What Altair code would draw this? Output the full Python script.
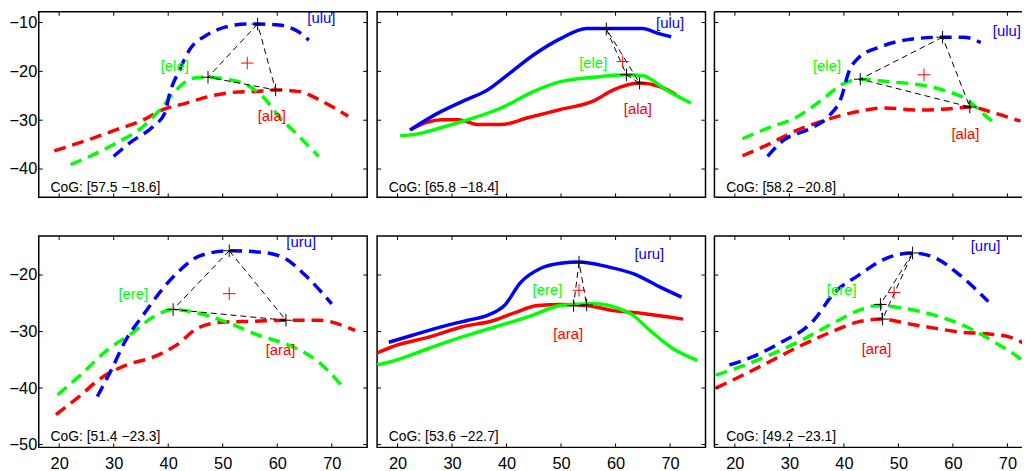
import altair as alt
import pandas as pd

FONT = "Liberation Sans"
X_DOMAIN = [16.25, 76.5]
Y_DOMAIN_TOP = [-45.8, -7.8]
Y_DOMAIN_BOTTOM = [-50.5, -13.1]
X_TICKS = [20, 30, 40, 50, 60, 70]
Y_TICKS_TOP = [-40, -30, -20, -10]
Y_TICKS_BOTTOM = [-50, -40, -30, -20]
PANEL_W = 331
PANEL_W_LAST = 310   # the right column is cut by the window edge in the reference
H_TOP = 187
H_BOTTOM = 213

# ---------------- panel 1 (top-left, dashed) ----------------
P1_U = [(30.0, -37.4), (33.0, -34.6), (37.3, -31.2), (39.4, -28.5), (40.3, -24.4), (42.1, -19.7),
        (43.9, -15.6), (47.0, -12.6), (50.6, -10.9), (54.3, -10.3), (56.4, -10.3), (60.3, -10.5),
        (63.9, -11.9), (65.8, -13.6)]
P1_E = [(22.1, -39.1), (26.4, -37.0), (30.6, -34.6), (35.5, -31.2), (38.5, -27.8), (41.5, -23.8),
        (44.5, -21.4), (47.3, -21.2), (50.6, -21.6), (54.3, -22.7), (57.3, -25.1), (60.3, -29.2),
        (63.9, -33.2), (67.6, -37.4)]
P1_A = [(19.1, -36.3), (26.4, -33.6), (30.6, -31.9), (34.9, -30.2), (39.1, -27.8), (43.3, -26.5),
        (47.6, -25.1), (51.9, -24.3), (56.1, -24.1), (59.7, -23.8), (63.9, -24.1), (68.2, -26.1),
        (73.0, -29.2)]
P1_PEAKS = [(56.4, -10.3), (47.3, -21.2), (59.7, -23.8)]
P1_COG = (54.5, -18.3)
P1_LABELS = [(68.1, -9.0), (41.2, -19.0), (59.0, -29.2)]
P1_NAMES = ["[ulu]", "[ele]", "[ala]"]
P1_TEXT = "CoG: [57.5 \u221218.6]"

# ---------------- panel 2 (top-middle, solid) ----------------
P2_U = [(22.3, -32.0), (27.5, -28.5), (32.4, -25.9), (36.5, -23.8), (40.2, -20.7), (45.0, -16.6),
        (49.9, -13.3), (54.7, -11.2), (58.4, -11.2), (65.0, -11.2), (67.5, -12.1), (70.2, -12.9)]
P2_E = [(20.5, -33.2), (23.2, -32.9), (28.1, -31.5), (32.9, -29.9), (39.0, -27.5), (45.0, -24.1),
        (49.9, -22.1), (55.9, -21.2), (62.0, -20.7), (65.0, -20.9), (69.3, -23.8), (73.8, -26.5)]
P2_A = [(22.3, -32.0), (25.5, -30.4), (28.1, -29.9), (31.2, -29.9), (34.8, -30.9), (39.0, -30.9),
        (43.9, -29.5), (49.9, -27.8), (55.9, -26.1), (59.6, -23.8), (64.4, -22.4), (68.1, -23.1),
        (71.1, -24.8)]
P2_PEAKS = [(58.3, -11.3), (62.0, -20.7), (64.4, -22.4)]
P2_COG = (61.3, -18.0)
P2_LABELS = [(70.0, -10.1), (55.9, -18.3), (64.1, -27.8)]
P2_NAMES = ["[ulu]", "[ele]", "[ala]"]
P2_TEXT = "CoG: [65.8 \u221218.4]"

# ---------------- panel 3 (top-right, dashed) ----------------
P3_U = [(26.0, -37.4), (28.7, -34.3), (34.2, -31.5), (37.2, -29.2), (39.6, -25.1), (40.8, -20.4),
        (42.6, -17.3), (46.9, -14.9), (51.7, -13.5), (58.1, -13.0), (62.0, -13.0), (65.1, -14.1)]
P3_E = [(21.4, -33.8), (26.25, -31.5), (31.1, -29.5), (36.0, -25.8), (39.6, -22.7), (43.0, -21.6),
        (48.1, -22.1), (53.5, -22.7), (58.4, -23.9), (62.6, -25.8), (65.7, -28.8), (67.5, -30.5)]
P3_A = [(21.4, -37.3), (26.25, -34.9), (31.1, -32.2), (36.0, -30.2), (41.4, -28.5), (47.5, -27.5),
        (53.5, -27.9), (59.0, -27.7), (63.2, -27.3), (67.5, -28.5), (72.4, -30.2)]
P3_PEAKS = [(58.1, -13.0), (43.0, -21.6), (63.1, -27.3)]
P3_COG = (54.7, -20.7)
P3_LABELS = [(69.9, -11.7), (36.9, -18.9), (62.3, -32.8)]
P3_NAMES = ["[ulu]", "[ele]", "[ala]"]
P3_TEXT = "CoG: [58.2 \u221220.8]"

# ---------------- panel 4 (bottom-left, dashed) ----------------
P4_U = [(27.0, -41.5), (29.4, -37.1), (32.4, -31.2), (35.4, -27.1), (39.0, -22.4), (42.1, -19.2),
        (45.8, -16.6), (51.2, -15.7), (57.3, -16.0), (61.5, -17.1), (65.2, -20.1), (70.0, -25.1)]
P4_E = [(19.7, -41.2), (23.9, -37.7), (28.8, -33.3), (33.6, -30.1), (37.3, -27.4), (40.9, -26.1),
        (45.8, -26.8), (50.6, -28.3), (56.7, -30.7), (62.1, -32.4), (67.6, -35.4), (71.8, -39.5)]
P4_A = [(19.4, -44.7), (23.3, -41.8), (27.6, -38.3), (32.4, -35.9), (37.3, -34.5), (41.5, -32.4),
        (45.8, -29.2), (50.6, -28.3), (55.5, -28.2), (61.5, -28.0), (67.6, -28.0), (74.3, -29.8)]
P4_PEAKS = [(51.2, -15.7), (40.9, -26.1), (61.6, -28.0)]
P4_COG = (51.2, -23.3)
P4_LABELS = [(64.4, -14.2), (33.6, -23.3), (60.6, -33.3)]
P4_NAMES = ["[uru]", "[ere]", "[ara]"]
P4_TEXT = "CoG: [51.4 \u221223.3]"

# ---------------- panel 5 (bottom-middle, solid) ----------------
P5_U = [(18.4, -31.9), (22.6, -30.7), (28.7, -29.0), (32.9, -28.0), (36.6, -27.1), (39.6, -25.4),
        (42.6, -21.3), (46.3, -18.8), (49.9, -17.9), (53.3, -17.7), (58.4, -18.5), (63.9, -20.0),
        (68.1, -22.1), (72.1, -23.9)]
P5_E = [(16.25, -35.9), (19.6, -35.1), (25.7, -33.0), (31.7, -31.0), (37.8, -29.2), (43.9, -27.4),
        (49.9, -25.4), (52.3, -25.2), (55.9, -25.1), (60.8, -26.0), (63.2, -27.1), (65.6, -29.2),
        (70.5, -33.0), (75.0, -35.1)]
P5_A = [(16.25, -33.8), (19.6, -32.5), (25.7, -31.0), (31.7, -29.2), (37.8, -28.0), (41.4, -26.7),
        (45.7, -25.4), (49.9, -25.2), (54.7, -25.4), (59.6, -26.3), (65.0, -26.8), (72.4, -27.8)]
P5_PEAKS = [(53.3, -17.7), (52.3, -25.4), (54.7, -25.3)]
P5_COG = (53.3, -22.7)
P5_LABELS = [(66.2, -16.3), (47.5, -22.6), (51.3, -30.5)]
P5_NAMES = ["[uru]", "[ere]", "[ara]"]
P5_TEXT = "CoG: [53.6 \u221222.7]"

# ---------------- panel 6 (bottom-right, dashed) ----------------
P6_U = [(19.0, -35.9), (23.2, -34.5), (28.1, -32.1), (34.2, -28.3), (38.4, -23.0), (42.6, -20.1),
        (48.1, -16.9), (52.6, -16.1), (56.6, -16.9), (61.4, -20.1), (66.5, -24.7)]
P6_E = [(16.5, -37.7), (20.2, -36.5), (26.25, -34.2), (32.3, -31.5), (38.4, -28.3), (42.6, -26.3),
        (46.3, -25.4), (50.4, -25.8), (56.6, -27.1), (62.6, -29.2), (67.5, -31.8), (72.3, -34.8),
        (74.3, -36.6)]
P6_A = [(16.5, -40.0), (20.2, -38.3), (26.25, -35.4), (32.3, -32.4), (38.4, -29.8), (42.6, -28.3),
        (46.9, -27.8), (51.7, -28.6), (56.6, -29.4), (61.4, -30.1), (66.2, -30.4), (70.5, -31.0),
        (74.1, -32.7)]
P6_PEAKS = [(52.6, -16.1), (46.7, -25.2), (47.1, -27.8)]
P6_COG = (49.2, -23.1)
P6_LABELS = [(66.0, -14.8), (39.6, -22.6), (46.0, -33.1)]
P6_NAMES = ["[uru]", "[ere]", "[ara]"]
P6_TEXT = "CoG: [49.2 \u221223.1]"

COG_TEXT_X = 18.4
COG_TEXT_Y = {0: -43.8, 1: -48.6}

SERIES_COLORS = ["#0000ff", "#00ff00", "#ff0000"]  # u, e, a
DASHED = [True, False, True, True, False, True]

PANELS = [
    (P1_U, P1_E, P1_A, P1_PEAKS, P1_COG, P1_LABELS, P1_NAMES, P1_TEXT),
    (P2_U, P2_E, P2_A, P2_PEAKS, P2_COG, P2_LABELS, P2_NAMES, P2_TEXT),
    (P3_U, P3_E, P3_A, P3_PEAKS, P3_COG, P3_LABELS, P3_NAMES, P3_TEXT),
    (P4_U, P4_E, P4_A, P4_PEAKS, P4_COG, P4_LABELS, P4_NAMES, P4_TEXT),
    (P5_U, P5_E, P5_A, P5_PEAKS, P5_COG, P5_LABELS, P5_NAMES, P5_TEXT),
    (P6_U, P6_E, P6_A, P6_PEAKS, P6_COG, P6_LABELS, P6_NAMES, P6_TEXT),
]

PLUS = "M-1,0L1,0M0,-1L0,1"
PX_PER_UNIT = PANEL_W / (X_DOMAIN[1] - X_DOMAIN[0])


def make_panel(k):
    row, col = divmod(k, 3)
    u, e, a, peaks, cog, labels, names, cog_text = PANELS[k]
    dom = Y_DOMAIN_TOP if row == 0 else Y_DOMAIN_BOTTOM
    yticks = Y_TICKS_TOP if row == 0 else Y_TICKS_BOTTOM
    h = H_TOP if row == 0 else H_BOTTOM
    last = col == 2
    w = PANEL_W_LAST if last else PANEL_W
    xdom = [X_DOMAIN[0], X_DOMAIN[0] + w / PX_PER_UNIT] if last else X_DOMAIN
    xs = alt.Scale(domain=xdom, nice=False, zero=False)
    ys = alt.Scale(domain=dom, nice=False, zero=False)
    if row == 1:
        xax = alt.Axis(values=X_TICKS, ticks=False, domain=False, grid=False, labelFont=FONT,
                       labelFontSize=16.5, labelColor="black", labelPadding=8, title=None,
                       labelFlush=False, labelOverlap=False)
    else:
        xax = None
    if col == 0:
        yax = alt.Axis(values=yticks, ticks=False, domain=False, grid=False, labelFont=FONT,
                       labelFontSize=16.5, labelColor="black", labelPadding=2, title=None,
                       labelFlush=False, labelOverlap=False)
    else:
        yax = None

    def X(f="x"):
        return alt.X(f, type="quantitative", scale=xs, axis=xax)

    def Y(f="y"):
        return alt.Y(f, type="quantitative", scale=ys, axis=yax)

    layers = []
    # curves: red, green, blue order
    for pts, colr in [(a, SERIES_COLORS[2]), (e, SERIES_COLORS[1]), (u, SERIES_COLORS[0])]:
        df = pd.DataFrame({"x": [p[0] for p in pts], "y": [p[1] for p in pts], "i": list(range(len(pts)))})
        kw = dict(strokeWidth=3.5, color=colr, clip=True, interpolate="monotone")
        if DASHED[k]:
            kw["strokeDash"] = [12, 7]
        layers.append(alt.Chart(df).mark_line(**kw).encode(x=X(), y=Y(), order="i:Q"))

    # triangle between peaks
    tri = [peaks[0], peaks[1], peaks[2], peaks[0]]
    tdf = pd.DataFrame({"x": [p[0] for p in tri], "y": [p[1] for p in tri], "i": [0, 1, 2, 3]})
    layers.append(alt.Chart(tdf).mark_line(color="black", strokeWidth=1, strokeDash=[6, 4], clip=True)
                  .encode(x=X(), y=Y(), order="i:Q"))

    pdf = pd.DataFrame({"x": [p[0] for p in peaks], "y": [p[1] for p in peaks]})
    layers.append(alt.Chart(pdf).mark_point(shape=PLUS, size=160, filled=False, color="black",
                                            strokeWidth=1, opacity=1, clip=True)
                  .encode(x=X(), y=Y()))
    cdf = pd.DataFrame({"x": [cog[0]], "y": [cog[1]]})
    layers.append(alt.Chart(cdf).mark_point(shape=PLUS, size=160, filled=False, color="#ff0000",
                                            strokeWidth=1, opacity=1, clip=True)
                  .encode(x=X(), y=Y()))

    # series labels
    for (lx, ly), name, colr in zip(labels, names, SERIES_COLORS):
        ldf = pd.DataFrame({"x": [lx], "y": [ly], "t": [name]})
        layers.append(alt.Chart(ldf).mark_text(font=FONT, fontSize=15, color=colr, align="center",
                                               baseline="middle", clip=True)
                      .encode(x=X(), y=Y(), text="t:N"))

    # CoG text
    gdf = pd.DataFrame({"x": [COG_TEXT_X], "y": [COG_TEXT_Y[row]], "t": [cog_text]})
    layers.append(alt.Chart(gdf).mark_text(font=FONT, fontSize=14, color="black", align="left",
                                           baseline="middle", clip=True)
                  .encode(x=X(), y=Y(), text="t:N"))

    # inside ticks (mirrored like a boxed axis)
    xt = pd.DataFrame({"t": X_TICKS})
    yt = pd.DataFrame({"t": yticks})
    layers.append(alt.Chart(xt).mark_rule(color="black", strokeWidth=1)
                  .encode(x=X("t"), y=alt.value(0), y2=alt.value(4)))
    layers.append(alt.Chart(xt).mark_rule(color="black", strokeWidth=1)
                  .encode(x=X("t"), y=alt.value(h), y2=alt.value(h - 4)))
    layers.append(alt.Chart(yt).mark_rule(color="black", strokeWidth=1)
                  .encode(y=Y("t"), x=alt.value(0), x2=alt.value(4)))
    if not last:
        layers.append(alt.Chart(yt).mark_rule(color="black", strokeWidth=1)
                      .encode(y=Y("t"), x=alt.value(w), x2=alt.value(w - 4)))
        return alt.layer(*layers).properties(width=w, height=h)

    # right column: frame drawn on three sides only (right side lies beyond the window)
    one = pd.DataFrame({"k": [0]})
    layers.append(alt.Chart(one).mark_rule(color="black", strokeWidth=1.5)
                  .encode(x=alt.value(0), x2=alt.value(w), y=alt.value(0)))
    layers.append(alt.Chart(one).mark_rule(color="black", strokeWidth=1.5)
                  .encode(x=alt.value(0), x2=alt.value(w), y=alt.value(h)))
    layers.append(alt.Chart(one).mark_rule(color="black", strokeWidth=1.5)
                  .encode(x=alt.value(0), y=alt.value(0), y2=alt.value(h)))
    return alt.layer(*layers).properties(
        width=w, height=h, view=alt.ViewBackground(stroke="transparent", strokeWidth=0)
    )


top = alt.hconcat(make_panel(0), make_panel(1), make_panel(2), spacing=6)
bottom = alt.hconcat(make_panel(3), make_panel(4), make_panel(5), spacing=6)

chart = (
    alt.vconcat(top, bottom, spacing=35)
    .properties(padding=0, background="white")
    .configure_view(stroke="black", strokeWidth=1.5)
)

chart.save("out.html", embed_options={"renderer": "svg", "actions": False})
